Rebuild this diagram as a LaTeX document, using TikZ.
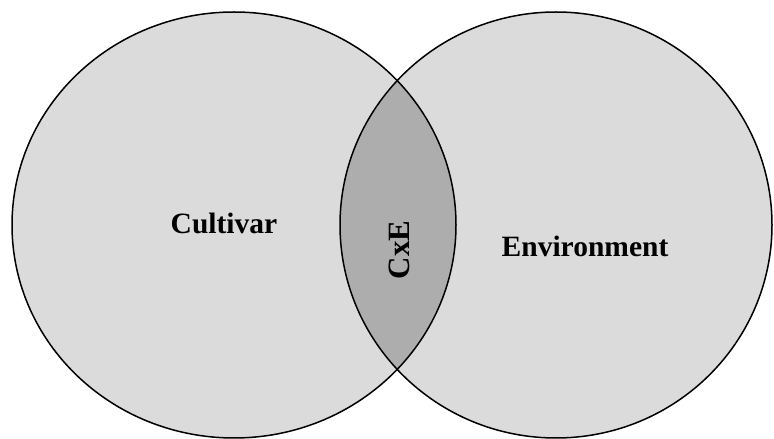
\documentclass[tikz,border=0pt]{standalone}
\usepackage{fontspec}
\setmainfont{Liberation Serif}
\begin{document}
\begin{tikzpicture}[x=1pt, y=1pt, line width=1.5pt,
  setlabel/.style={font=\fontsize{29.5}{30}\selectfont\bfseries, anchor=base, inner sep=0pt}]
\useasboundingbox (0,0) rectangle (774,439);

\fill[black!14] (234,214) ellipse [x radius=222, y radius=213];
\fill[black!14] (556,214) ellipse [x radius=216, y radius=213];
\begin{scope}
\clip (234,214) ellipse [x radius=222, y radius=213];
\fill[black!32] (556,214) ellipse [x radius=216, y radius=213];
\end{scope}

\draw (234,214) ellipse [x radius=222, y radius=213];
\draw (556,214) ellipse [x radius=216, y radius=213];

\node[setlabel] (cultivar) at (224,205) {Cultivar};
\node[setlabel] (environment) at (585,182) {Environment};
\node[setlabel, rotate=90] (cxe) at (409.5,189) {\fontsize{31}{32}\selectfont CxE};
\end{tikzpicture}
\end{document}
